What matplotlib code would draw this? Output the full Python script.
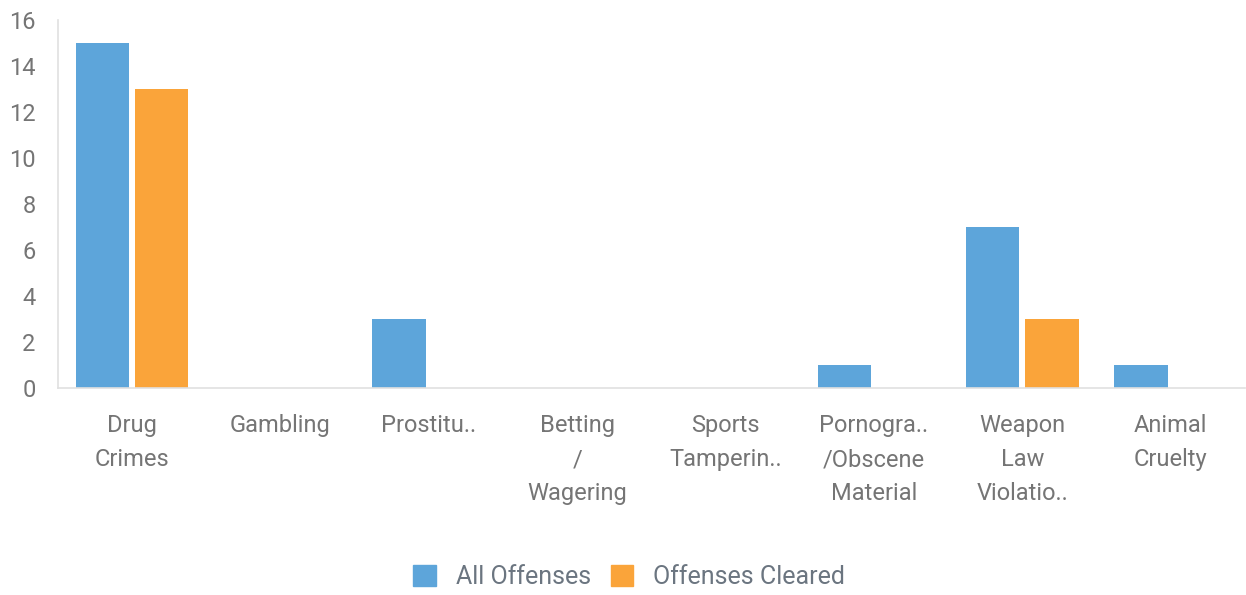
import matplotlib
matplotlib.use("Agg")
import matplotlib.pyplot as plt
import numpy as np
from matplotlib.patches import Patch

categories = ["Drug\nCrimes", "Gambling", "Prostitu..", "Betting\n/\nWagering",
              "Sports\nTamperin..", "Pornogra..\n/Obscene\nMaterial",
              "Weapon\nLaw\nViolatio..", "Animal\nCruelty"]
all_offenses = [15, 0, 3, 0, 0, 1, 7, 1]
offenses_cleared = [13, 0, 0, 0, 0, 0, 3, 0]
series_names = ["All Offenses", "Offenses Cleared"]
colors = ["#5da5da", "#faa43a"]
yticks = [0, 2, 4, 6, 8, 10, 12, 14, 16]

plt.rcParams['font.family'] = ['Roboto', 'DejaVu Sans']

fig = plt.figure(figsize=(12.46, 5.95), dpi=100)
ax = fig.add_axes([0.0465, 0.3479, 0.9525, 0.6185])

x = np.arange(len(categories))
w = 0.36
ax.bar(x - 0.2, all_offenses, width=w, color=colors[0])
ax.bar(x + 0.2, offenses_cleared, width=w, color=colors[1])

ax.set_xlim(-0.5, len(categories) - 0.5)
ax.set_ylim(0, 16)
ax.set_yticks(yticks)
ax.set_yticklabels([str(v) for v in yticks], fontsize=17, color="#757575")
ax.set_xticks(x)
ax.set_xticklabels(categories, fontsize=17, color="#757575", linespacing=1.59, va="top")
ax.tick_params(axis="both", length=0)
ax.tick_params(axis="y", pad=16)
ax.tick_params(axis="x", pad=19)
for s in ["top", "right"]:
    ax.spines[s].set_visible(False)
for s in ["left", "bottom"]:
    ax.spines[s].set_color("#e0e0e0")
    ax.spines[s].set_linewidth(1.2)

handles = [Patch(color=c) for c in colors]
fig.legend(handles, series_names, loc="center", bbox_to_anchor=(0.505, 0.03),
           ncol=2, frameon=False, fontsize=18, handlelength=0.9, handleheight=0.9,
           handletextpad=0.8, columnspacing=0.8, labelcolor="#6b7580")

fig.savefig("out.png", dpi=100)
